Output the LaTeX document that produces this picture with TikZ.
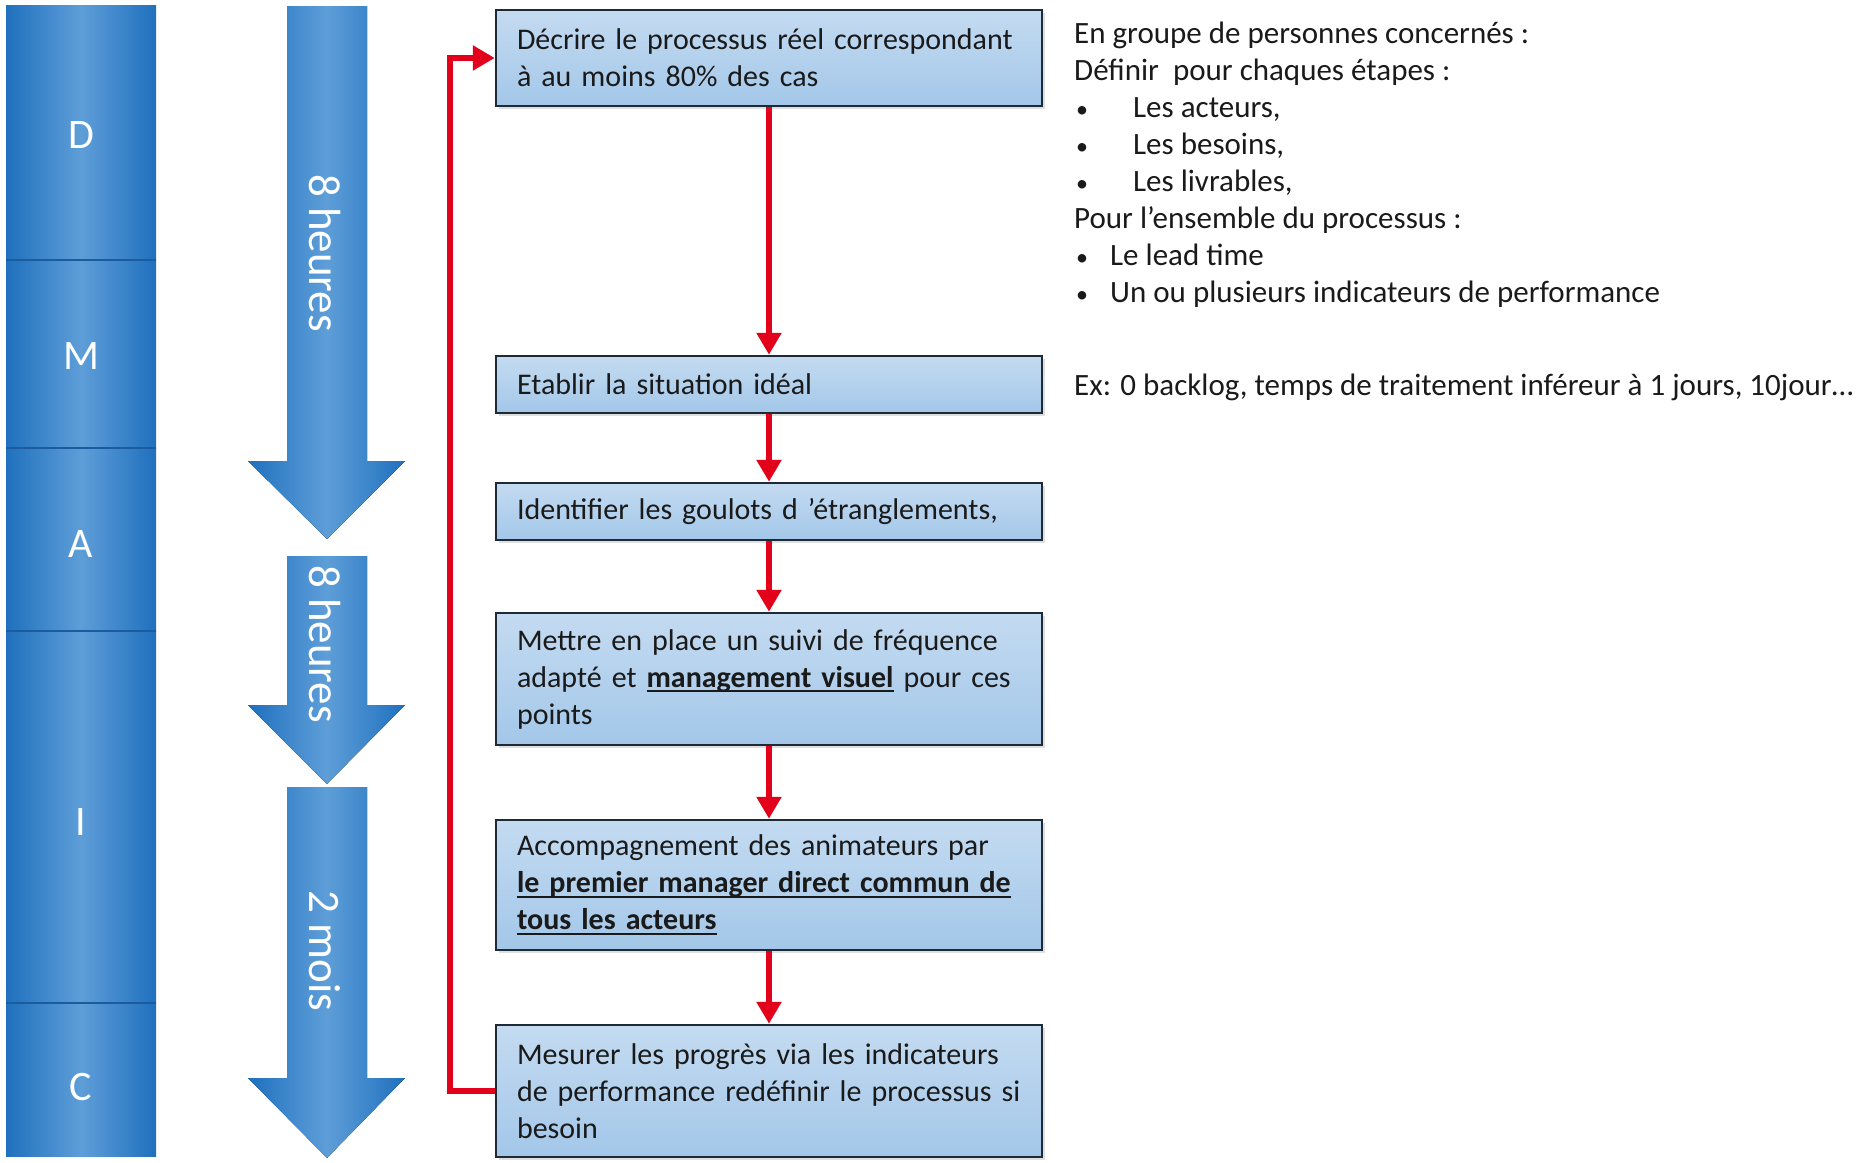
\documentclass[tikz,border=0pt]{standalone}
\usepackage{fontspec}
\setmainfont{Carlito}
\newcommand{\ulbold}[1]{\leavevmode\setbox0\hbox{\textbf{#1}}\rlap{\raisebox{-5pt}{\rule{\wd0}{2pt}}}\box0\relax}
\newcommand{\smbul}{{\fontsize{24}{24}\selectfont •}}
\usetikzlibrary{arrows.meta,shadows}
\definecolor{colEdge}{HTML}{1F70BE}
\definecolor{colMid}{HTML}{5E9ED8}
\definecolor{divline}{HTML}{1B5C9E}
\definecolor{boxTop}{HTML}{C4DBF1}
\definecolor{boxBot}{HTML}{A3C7E9}
\definecolor{boxLine}{HTML}{1E2A36}
\definecolor{flowred}{HTML}{E2001A}
\definecolor{txt}{HTML}{1A1A1A}
\begin{document}
\begin{tikzpicture}[x=1pt,y=-1pt,
  seg/.style={left color=colEdge,right color=colEdge,middle color=colMid},
  bigarrow/.style={left color=colEdge,right color=colEdge,middle color=colMid},
  letter/.style={text=white,font=\fontsize{42}{50}\selectfont,inner sep=0pt},
  rottext/.style={text=white,rotate=-90,font=\fontsize{45}{54}\selectfont,inner sep=0pt},
  stepbox/.style={rectangle,draw=boxLine,line width=2.5pt,top color=boxTop,bottom color=boxBot,
    text width=504pt,inner xsep=21pt,inner ysep=0pt,align=left,
    font=\fontsize{30}{37}\selectfont,text=txt,
    drop shadow={shadow xshift=3pt,shadow yshift=-3pt,opacity=0.25}},
  redarrow/.style={draw=flowred,line width=6pt,-{Triangle[width=24pt,length=22pt]}},
  note/.style={anchor=base west,inner sep=0pt,text=txt,font=\fontsize{31}{37}\selectfont}
]
\useasboundingbox (0,0) rectangle (1858,1162);
\fill[white] (0,0) rectangle (1858,1162);

% DMAIC column
\fill[seg] (6,5) rectangle (156,260);
\fill[seg] (6,260) rectangle (156,448);
\fill[seg] (6,448) rectangle (156,631);
\fill[seg] (6,631) rectangle (156,1003);
\fill[seg] (6,1003) rectangle (156,1156);
\foreach \yy in {260,448,631,1003} \draw[divline,line width=2pt] (6,\yy) -- (156,\yy);
\node[letter] (lD) at (81,135) {D};
\node[letter] (lM) at (81,356) {M};
\node[letter] (lA) at (81,544) {A};
\node[letter] (lI) at (81,822) {I};
\node[letter] (lC) at (81,1087) {C};

% time arrows
\fill[bigarrow] (287,6) -- (367,6) -- (367,461) -- (405,461) -- (327,539) -- (248,461) -- (287,461) -- cycle;
\fill[bigarrow] (287,556) -- (367,556) -- (367,705) -- (405,705) -- (327,784) -- (248,705) -- (287,705) -- cycle;
\fill[bigarrow] (287,787) -- (367,787) -- (367,1078) -- (405,1078) -- (327,1158) -- (248,1078) -- (287,1078) -- cycle;
\node[rottext] (t1) at (325,253) {8 heures};
\node[rottext] (t2) at (325,644) {8 heures};
\node[rottext] (t3) at (325,951) {2 mois};

% process boxes
\node[stepbox,minimum height=96pt] (b1) at (769,58)
  {\mbox{Décrire le processus réel correspondant}\\à au moins 80\% des cas};
\node[stepbox,minimum height=57pt] (b2) at (769,384.5) {Etablir la situation idéal};
\node[stepbox,minimum height=57pt] (b3) at (769,511.5) {Identifier les goulots d ’étranglements,};
\node[stepbox,minimum height=132pt] (b4) at (769,679)
  {\mbox{Mettre en place un suivi de fréquence}\\\mbox{adapté et \ulbold{management visuel} pour ces}\\points};
\node[stepbox,minimum height=130pt] (b5) at (769,885)
  {\mbox{Accompagnement des animateurs par}\\\mbox{\ulbold{le premier manager direct commun de}}\\\mbox{\ulbold{tous les acteurs}}};
\node[stepbox,minimum height=132pt] (b6) at (769,1091)
  {\mbox{Mesurer les progrès via les indicateurs}\\\mbox{de performance redéfinir le processus si}\\besoin};

% red connectors
\draw[redarrow] (b1.south) -- (b2.north);
\draw[redarrow] (b2.south) -- (b3.north);
\draw[redarrow] (b3.south) -- (b4.north);
\draw[redarrow] (b4.south) -- (b5.north);
\draw[redarrow] (b5.south) -- (b6.north);
\draw[redarrow] (b6.west) -- ++(-45,0) |- (b1.west);

% notes
\node[note] (n1) at (1074,43) {En groupe de personnes concernés :};
\node[note] (n2) at (1074,80) {Définir\ \ pour chaques étapes :};
\node[note] (n3) at (1076,117) {\makebox[57pt][l]{\smbul}Les acteurs,};
\node[note] (n4) at (1076,154) {\makebox[57pt][l]{\smbul}Les besoins,};
\node[note] (n5) at (1076,191) {\makebox[57pt][l]{\smbul}Les livrables,};
\node[note] (n6) at (1074,228) {Pour l’ensemble du processus :};
\node[note] (n7) at (1076,265) {\makebox[34pt][l]{\smbul}Le lead time};
\node[note] (n8) at (1076,302) {\makebox[34pt][l]{\smbul}Un ou plusieurs indicateurs de performance};
\node[note] (n9) at (1074,395) {Ex: 0 backlog, temps de traitement inféreur à 1 jours, 10jour…};
\end{tikzpicture}
\end{document}
